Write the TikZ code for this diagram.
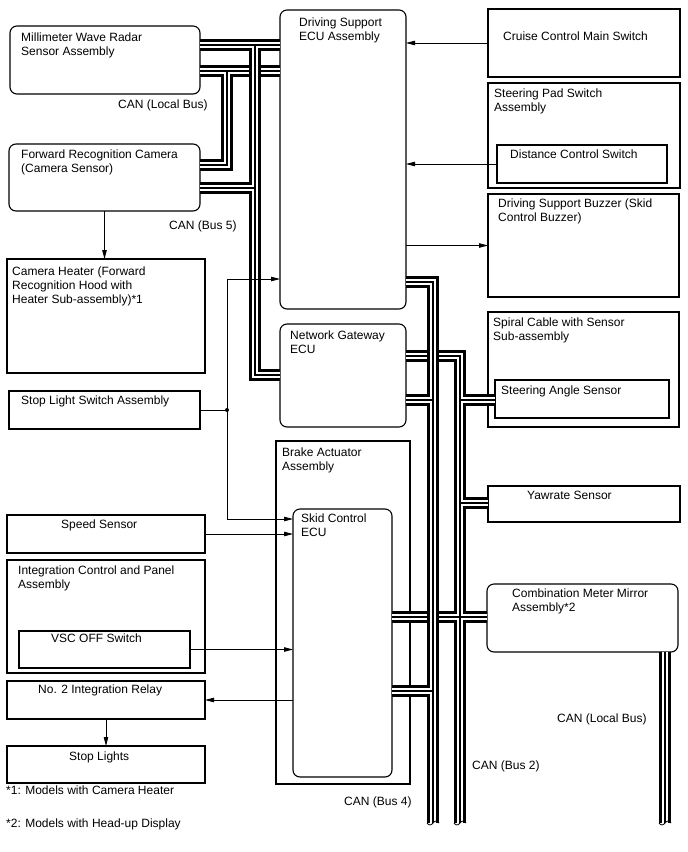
\documentclass[tikz,border=0pt]{standalone}
\usepackage{fontspec}
\setmainfont{Liberation Sans}
\usetikzlibrary{arrows.meta,positioning}
\tikzset{
  unit/.style={draw, line width=1.1pt, anchor=north west, inner sep=0pt, outer sep=0pt},
  ecu/.style={unit, rounded corners=7pt},
  txt/.style={anchor=north west, inner sep=0pt, align=left, font=\fontsize{12}{14}\selectfont},
  sig/.style={line width=0.8pt, -{Triangle[length=9pt,width=4.5pt]}},
  wire/.style={line width=0.8pt},
  canbus/.style={line width=1.2pt, line join=miter,
    preaction={draw, line width=12pt, black},
    preaction={draw, line width=6.5pt, white}},
  busend/.style={line width=0.8pt}
}

\begin{document}
\begin{tikzpicture}[x=1pt, y=-1pt]
  \useasboundingbox (0,0) rectangle (688,852);

  % Left column
  \node[ecu, minimum width=190pt, minimum height=68pt] (radar) at (10,26) {};
  \node[txt] (radar-l) at (21,33) {Millimeter Wave Radar\\Sensor Assembly};
  \node[ecu, minimum width=191pt, minimum height=67pt] (camera) at (9,144) {};
  \node[txt] (camera-l) at (21,150) {Forward Recognition Camera\\(Camera Sensor)};
  \node[unit, minimum width=198pt, minimum height=114pt] (heater) at (7,259) {};
  \node[txt] (heater-l) at (12,267) {Camera Heater (Forward\\Recognition Hood with\\Heater Sub-assembly)*1};
  \node[unit, minimum width=191pt, minimum height=38pt] (stopsw) at (9,391) {};
  \node[txt] (stopsw-l) at (21,396) {Stop Light Switch Assembly};
  \node[unit, minimum width=198pt, minimum height=38pt] (speed) at (7,515) {};
  \node[txt] (speed-l) at (61,520) {Speed Sensor};
  \node[unit, minimum width=198pt, minimum height=113pt] (icp) at (7,560) {};
  \node[txt] (icp-l) at (18,566) {Integration Control and Panel\\Assembly};
  \node[unit, minimum width=171pt, minimum height=37pt] (vsc) at (19,631) {};
  \node[txt] (vsc-l) at (51,634) {VSC OFF Switch};
  \node[unit, minimum width=198pt, minimum height=38pt] (relay) at (7,681) {};
  \node[txt] (relay-l) at (38,685) {No. 2 Integration Relay};
  \node[unit, minimum width=198pt, minimum height=37pt] (lights) at (7,746) {};
  \node[txt] (lights-l) at (69,752) {Stop Lights};
  \node[txt] (note1) at (6,786) {*1: Models with Camera Heater};
  \node[txt] (note2) at (6,819) {*2: Models with Head-up Display};

  % Middle column
  \node[ecu, minimum width=126pt, minimum height=299pt] (dsecu) at (280,10) {};
  \node[txt] (dsecu-l) at (299,18) {Driving Support\\ECU Assembly};
  \node[ecu, minimum width=126pt, minimum height=103pt] (ngecu) at (280,324) {};
  \node[txt] (ngecu-l) at (290,331) {Network Gateway\\ECU};
  \node[unit, minimum width=134pt, minimum height=343pt] (brake) at (276,441) {};
  \node[txt] (brake-l) at (282,448) {Brake Actuator\\Assembly};
  \node[ecu, minimum width=99pt, minimum height=268pt] (skid) at (293,509) {};
  \node[txt] (skid-l) at (301,514) {Skid Control\\ECU};

  % Right column
  \node[unit, minimum width=192pt, minimum height=68pt] (cruise) at (488,9) {};
  \node[txt] (cruise-l) at (503,32) {Cruise Control Main Switch};
  \node[unit, minimum width=192pt, minimum height=105pt] (pad) at (488,83) {};
  \node[txt] (pad-l) at (494,89) {Steering Pad Switch\\Assembly};
  \node[unit, minimum width=170pt, minimum height=38pt] (dcs) at (497,145) {};
  \node[txt] (dcs-l) at (510,150) {Distance Control Switch};
  \node[unit, minimum width=191pt, minimum height=103pt] (buzzer) at (488,194) {};
  \node[txt] (buzzer-l) at (498,199) {Driving Support Buzzer (Skid\\Control Buzzer)};
  \node[unit, minimum width=191pt, minimum height=115pt] (spiral) at (488,312) {};
  \node[txt] (spiral-l) at (493,318) {Spiral Cable with Sensor\\Sub-assembly};
  \node[unit, minimum width=174pt, minimum height=38pt] (sas) at (495,380) {};
  \node[txt] (sas-l) at (501,386) {Steering Angle Sensor};
  \node[unit, minimum width=192pt, minimum height=36pt] (yaw) at (488,486) {};
  \node[txt] (yaw-l) at (527,491) {Yawrate Sensor};
  \node[ecu, minimum width=191pt, minimum height=68pt] (meter) at (487,584) {};
  \node[txt] (meter-l) at (512,589) {Combination Meter Mirror\\Assembly*2};

  % Bus labels
  \node[txt] (can-lb) at (118,100) {CAN (Local Bus)};
  \node[txt] (can-b5) at (169,221) {CAN (Bus 5)};
  \node[txt] (can-b4) at (344,797) {CAN (Bus 4)};
  \node[txt] (can-b2) at (472,761) {CAN (Bus 2)};
  \node[txt] (can-lb2) at (557,714) {CAN (Local Bus)};

  % Bus points
  \coordinate (lbtop) at (227,71);
  \coordinate (lbcam) at (227,165);
  \coordinate (b5top) at (255,45);
  \coordinate (b5cam) at (255,188);
  \coordinate (b5ng) at (255,375);
  \coordinate (b2top) at (460,356);
  \coordinate (b2sas) at (460,400);
  \coordinate (b2yaw) at (460,503);
  \coordinate (b2sk) at (460,617);
  \coordinate (b2end) at (460,823);
  \coordinate (b4top) at (433,282);
  \coordinate (b4ng) at (433,400);
  \coordinate (b4sk) at (433,691);
  \coordinate (b4end) at (433,823);
  \coordinate (lb2end) at (665,823);

  % CAN buses
  \draw[canbus] (radar.east |- lbtop) -- (dsecu.west |- lbtop)
    (lbtop) -- (lbcam) -- (camera.east |- lbcam);
  \draw[canbus] (radar.east |- b5top) -- (dsecu.west |- b5top)
    (b5top) -- (b5ng) -- (ngecu.west |- b5ng)
    (camera.east |- b5cam) -- (b5cam);
  \draw[canbus] (ngecu.east |- b2top) -- (b2top) -- (b2end)
    (sas.west |- b2sas) -- (b2sas)
    (yaw.west |- b2yaw) -- (b2yaw)
    (skid.east |- b2sk) -- (meter.west |- b2sk);
  \draw[canbus] (dsecu.east |- b4top) -- (b4top) -- (b4end)
    (ngecu.east |- b4ng) -- (b4ng)
    (skid.east |- b4sk) -- (b4sk);
  \draw[canbus] (meter.south -| lb2end) -- (lb2end);

  % cut ends
  \foreach \e in {b4end, b2end, lb2end} {
    \draw[busend] ([xshift=-6pt]\e) sin ([xshift=-3pt,yshift=-2pt]\e) cos (\e)
      sin ([xshift=3pt,yshift=2pt]\e) cos ([xshift=6pt]\e);
  }

  % Signal lines
  \coordinate (jn) at (227,410);
  \coordinate (slup) at (227,279);
  \coordinate (sldn) at (227,519);
  \draw[wire] (stopsw.east) -- (jn);
  \draw[sig] (jn) -- (slup) -- (slup -| dsecu.west);
  \draw[sig] (jn) -- (sldn) -- (sldn -| skid.west);
  \fill (jn) circle (2pt);
  \draw[sig] (cruise.west) -- (cruise.west -| dsecu.east);
  \draw[sig] (dcs.west) -- (dcs.west -| dsecu.east);
  \draw[sig] (buzzer.west -| dsecu.east) -- (buzzer.west);
  \draw[sig] (camera.south) -- (camera.south |- heater.north);
  \draw[sig] (speed.east) -- (speed.east -| skid.west);
  \draw[sig] (vsc.east) -- (vsc.east -| skid.west);
  \draw[sig] (relay.east -| skid.west) -- (relay.east);
  \draw[sig] (relay.south) -- (lights.north);
\end{tikzpicture}
\end{document}
